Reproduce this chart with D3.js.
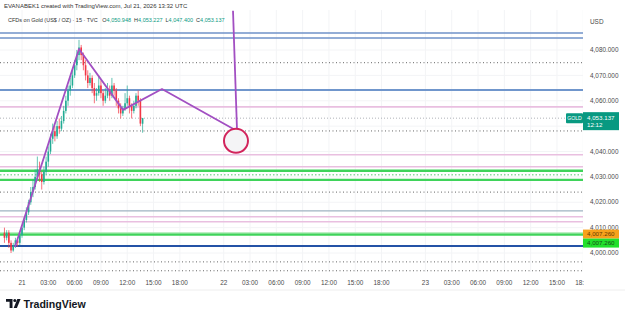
<!DOCTYPE html>
<html lang="en">
<head>
  <meta charset="UTF-8">
  <title>CFDs on Gold – 15m</title>
  <script src="https://d3js.org/d3.v7.min.js"></script>
  <style>
    body { margin: 0; background: #fff; font-family: Arial, "Liberation Sans", sans-serif; }
    svg { display: block; }
    .tick-label { font-size: 6.4px; fill: #4a4a4a; }
  </style>
</head>
<body>
<svg width="625" height="319"></svg>
<script>
  // last 64 bars, 15 minute candles (hours counted in trading hours from Jul 21 00:00)
  const firstBarHour = -2;
  const opens  = [4008,4006,4008,4004,4001,4003,4005,4004,4007,4010,4013,4016,4020,4024,4026,4030,
                  4033,4031,4028,4032,4036,4040,4045,4048,4046,4050,4049,4052,4056,4060,4064,4066,
                  4070,4074,4078,4081,4078,4074,4070,4067,4069,4065,4062,4063,4066,4063,4060,4062,
                  4064,4062,4066,4064,4060,4057,4055,4057,4059,4061,4058,4056,4058,4062,4060,4050.948];
  const highs  = [4010,4009,4009,4005,4004,4006,4006,4008,4011,4014,4018,4021,4026,4029,4033,4038,
                  4036,4032,4034,4038,4042,4047,4051,4050,4052,4053,4054,4058,4062,4066,4069,4072,
                  4076,4080,4084,4082,4079,4076,4072,4071,4070,4067,4065,4070,4068,4064,4065,4067,
                  4066,4069,4067,4065,4061,4059,4058,4063,4066,4062,4059,4060,4063,4064,4061,4053.227];
  const lows   = [4004,4005,4002,4000,4000.5,4002,4002.5,4003,4006,4009,4012,4015,4019,4022,4025,4029,
                  4028,4025,4027,4031,4034,4039,4043,4044,4045,4047,4048,4051,4055,4058,4062,4065,
                  4069,4072,4076,4076,4072,4068,4065,4066,4063,4059,4060,4062,4061,4058,4059,4061,
                  4060,4061,4062,4058,4055,4053,4054,4056,4058,4055,4053,4055,4057,4058,4050,4047.4];
  const closes = [4006,4008,4004,4001,4003,4005,4004,4007,4010,4013,4016,4020,4024,4026,4030,4033,
                  4031,4028,4032,4036,4040,4045,4048,4046,4050,4049,4052,4056,4060,4064,4066,4070,
                  4074,4078,4081,4078,4074,4070,4067,4069,4065,4062,4063,4066,4063,4060,4062,4064,
                  4062,4066,4064,4060,4057,4055,4057,4059,4061,4058,4056,4058,4062,4060,4051,4053.137];

  // horizontal levels drawn on the chart
  const levelPrices = [4086.7, 4084.7, 4075, 4064.25, 4057.6, 4048.1, 4038.7, 4034, 4032.4, 4030.8,
                       4028.8, 4024, 4016.6, 4014.3, 4012.3, 4007.9, 4007.26, 4002.8, 3996.5, 3993];
  const levelKinds  = ["blue", "blue", "dots", "blueWide", "pink", "dots", "pink", "pink", "green", "greenDots",
                       "green", "dots", "slate", "pink", "pink", "greenLight", "green", "navy", "dots", "dots"];

  // zig-zag path and arrow drawing
  const zigHours  = [-0.8, 6.5, 11.52, 15.96, 24.52];
  const zigPrices = [4002.4, 4080.4, 4056.4, 4064.6, 4048.1];
  const dropHours  = [24.06, 24.52];
  const dropPrices = [4095.5, 4048.1];
  const targetHour = 24.4, targetPrice = 4044.2;

  // axis ticks (4,050 sits under the last-price badge)
  const priceTicks = [4000, 4010, 4020, 4030, 4040, 4060, 4070, 4080];
  const gridPrices = [4000, 4010, 4020, 4030, 4040, 4050, 4060, 4070, 4080];
  const timeTickHours  = [0, 3, 6, 9, 12, 15, 18, 23, 26, 29, 32, 35, 38, 41, 46, 49, 52, 55, 58, 61, 64];
  const timeTickLabels = ["21","03:00","06:00","09:00","12:00","15:00","18:00",
                          "22","03:00","06:00","09:00","12:00","15:00","18:00",
                          "23","03:00","06:00","09:00","12:00","15:00","18:00"];

  const lastPrice = 4053.137, lastCountdown = "12:12";
  const markerPrice = 4007.26;

  const svg = d3.select("svg");
  const plotRight = 583;

  const x = d3.scaleLinear().domain([0, 63]).range([22, 22 + 63 * 8.77]);
  const y = d3.scaleLinear().domain([4000, 4080]).range([253, 50]);

  const styles = {
    blue:       { stroke: "#6f92c9", width: 1.6 },
    blueWide:   { stroke: "#7096cc", width: 2 },
    navy:       { stroke: "#2452a6", width: 2 },
    pink:       { stroke: "#e9bfe0", width: 1.6 },
    slate:      { stroke: "#9fb3c2", width: 1.2 },
    green:      { stroke: "#3fd35a", width: 2.4 },
    greenLight: { stroke: "#a8e8b0", width: 1.6 },
    greenDots:  { stroke: "#4fc46a", width: 1, dash: "1.5,2" },
    dots:       { stroke: "#666", width: 1, dash: "1,2.5" }
  };

  svg.append("rect").attr("width", 625).attr("height", 319).attr("fill", "#fff");

  const defs = svg.append("defs");
  defs.append("clipPath").attr("id", "plot")
    .append("rect").attr("x", 0).attr("y", 10).attr("width", plotRight).attr("height", 262);
  defs.append("clipPath").attr("id", "timeclip")
    .append("rect").attr("x", 0).attr("y", 272).attr("width", 584).attr("height", 18);

  const plot = svg.append("g").attr("clip-path", "url(#plot)");

  // faint grid
  plot.selectAll(".vgrid").data(timeTickHours).join("line")
    .attr("x1", d => x(d)).attr("x2", d => x(d)).attr("y1", 10).attr("y2", 272)
    .attr("stroke", "#f3f4f6").attr("stroke-width", 1);
  plot.selectAll(".hgrid").data(gridPrices).join("line")
    .attr("x1", 0).attr("x2", plotRight).attr("y1", d => y(d)).attr("y2", d => y(d))
    .attr("stroke", "#f3f4f6").attr("stroke-width", 1);

  // level lines
  plot.selectAll(".level").data(levelPrices).join("line")
    .attr("x1", 0).attr("x2", plotRight)
    .attr("y1", d => y(d)).attr("y2", d => y(d))
    .attr("stroke", (d, i) => styles[levelKinds[i]].stroke)
    .attr("stroke-width", (d, i) => styles[levelKinds[i]].width)
    .attr("stroke-dasharray", (d, i) => styles[levelKinds[i]].dash || null);

  // last price line
  plot.append("line")
    .attr("x1", 0).attr("x2", plotRight).attr("y1", y(lastPrice)).attr("y2", y(lastPrice))
    .attr("stroke", "#9aa0a6").attr("stroke-width", 0.8).attr("stroke-dasharray", "1,2");

  // candles
  const bars = closes.map((c, i) => ({ h: firstBarHour + i * 0.25, o: opens[i], hi: highs[i], lo: lows[i], c }));
  const candle = plot.selectAll(".candle").data(bars).join("g");
  const col = d => d.c >= d.o ? "#22ab94" : "#f23645";
  candle.append("line")
    .attr("x1", d => x(d.h)).attr("x2", d => x(d.h))
    .attr("y1", d => y(d.hi)).attr("y2", d => y(d.lo))
    .attr("stroke", col).attr("stroke-width", 0.7);
  candle.append("rect")
    .attr("x", d => x(d.h) - 0.8).attr("width", 1.6)
    .attr("y", d => y(Math.max(d.o, d.c)))
    .attr("height", d => Math.max(0.8, Math.abs(y(d.o) - y(d.c))))
    .attr("fill", col);

  // drawings
  const line = d3.line().x(d => x(d[0])).y(d => y(d[1]));
  plot.append("path")
    .attr("d", line(zigHours.map((h, i) => [h, zigPrices[i]])))
    .attr("fill", "none").attr("stroke", "#a24fc2").attr("stroke-width", 1.8).attr("stroke-linejoin", "round");
  plot.append("path")
    .attr("d", line(dropHours.map((h, i) => [h, dropPrices[i]])))
    .attr("fill", "none").attr("stroke", "#a24fc2").attr("stroke-width", 1.8);
  plot.append("circle")
    .attr("cx", x(targetHour)).attr("cy", y(targetPrice)).attr("r", 12)
    .attr("fill", "#f4f4f6").attr("stroke", "#d2245c").attr("stroke-width", 2);

  // bottom border under the time axis
  svg.append("line").attr("x1", 0).attr("x2", 625).attr("y1", 290).attr("y2", 290)
    .attr("stroke", "#eeeeee");

  // time axis
  const timeAxis = svg.append("g").attr("clip-path", "url(#timeclip)");
  timeAxis.selectAll("text").data(timeTickHours).join("text")
    .attr("class", "tick-label")
    .attr("x", d => x(d)).attr("y", 285)
    .attr("text-anchor", "middle")
    .text((d, i) => timeTickLabels[i]);

  // price axis
  const fmt = d3.format(",.3f");
  svg.append("text").attr("class", "tick-label").attr("x", 590).attr("y", 24).text("USD");
  svg.selectAll(".ptick").data(priceTicks).join("text")
    .attr("class", "tick-label")
    .attr("x", 590).attr("y", d => y(d) + 2.2)
    .text(d => fmt(d));

  // price badges
  svg.append("rect").attr("x", 566).attr("y", y(lastPrice) - 5).attr("width", 17).attr("height", 10)
    .attr("fill", "#089981").attr("rx", 1);
  svg.append("text").attr("x", 574.5).attr("y", y(lastPrice) + 2).attr("text-anchor", "middle")
    .attr("font-size", 5.2).attr("fill", "#fff").text("GOLD");
  svg.append("rect").attr("x", 583).attr("y", y(lastPrice) - 6).attr("width", 36).attr("height", 18)
    .attr("fill", "#089981");
  svg.append("text").attr("x", 587).attr("y", y(lastPrice) + 2).attr("font-size", 6.2).attr("fill", "#fff")
    .text(fmt(lastPrice));
  svg.append("text").attr("x", 587).attr("y", y(lastPrice) + 9).attr("font-size", 6.2).attr("fill", "#fff")
    .text(lastCountdown);

  svg.append("rect").attr("x", 583).attr("y", y(markerPrice) - 5).attr("width", 36).attr("height", 9)
    .attr("fill", "#f7a21c");
  svg.append("text").attr("x", 587).attr("y", y(markerPrice) + 1.8).attr("font-size", 6.2).attr("fill", "#6a3b00")
    .text(fmt(markerPrice));
  svg.append("rect").attr("x", 583).attr("y", y(markerPrice) + 4).attr("width", 36).attr("height", 9)
    .attr("fill", "#22e02c");
  svg.append("text").attr("x", 587).attr("y", y(markerPrice) + 10.8).attr("font-size", 6.2).attr("fill", "#1b4d1b")
    .text(fmt(markerPrice));

  // header
  svg.append("text").attr("x", 4).attr("y", 8.2).attr("font-size", 6).attr("fill", "#333")
    .text("EVANABEK1 created with TradingView.com, Jul 21, 2026 13:32 UTC");
  const last = bars[bars.length - 1];
  const hdr = svg.append("text").attr("x", 8).attr("y", 22.2).attr("font-size", 5.5).attr("fill", "#333");
  hdr.append("tspan").text("CFDs on Gold (US$ / OZ) · 15 · TVC");
  [["O", last.o], ["H", last.hi], ["L", last.lo], ["C", last.c]].forEach(([k, v], i) => {
    hdr.append("tspan").attr("dx", i === 0 ? 3 : 1.5).attr("fill", "#333").text(" " + k);
    hdr.append("tspan").attr("fill", "#089981").text(fmt(v));
  });

  // logo
  const logo = svg.append("g").attr("transform", "translate(6,299)");
  logo.append("path").attr("d", "M0,0H6.5V9H3.6V2.8H0Z").attr("fill", "#131722");
  logo.append("circle").attr("cx", 8.8).attr("cy", 1.5).attr("r", 1.5).attr("fill", "#131722");
  logo.append("path").attr("d", "M11.3,0H14.6L10.9,9H7.7Z").attr("fill", "#131722");
  svg.append("text").attr("x", 23.5).attr("y", 307.8).attr("font-size", 10.6).attr("font-weight", "bold")
    .attr("fill", "#131722").text("TradingView");
</script>
</body>
</html>
